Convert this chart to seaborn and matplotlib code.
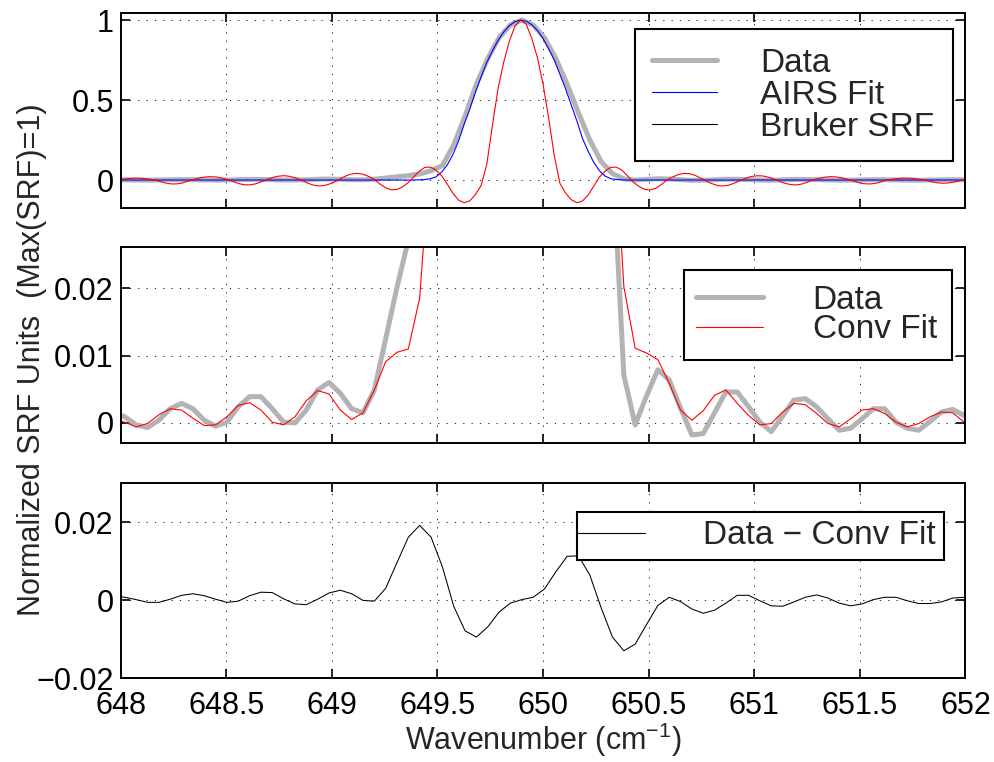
import numpy as np
import matplotlib
matplotlib.use("Agg")
import matplotlib.pyplot as plt
from matplotlib.lines import Line2D
from matplotlib.legend_handler import HandlerLine2D
from matplotlib.ticker import FuncFormatter
import seaborn as sns

# sampling of the measured channel and of the fitted SRF curves (cm-1)
wn_start, wn_stop, wn_count = 647.966, 652.047, 77
fine_start, fine_stop, fine_count = 648.0, 652.0, 151

# measured SRF (normalized)
data = [
    0.0015, 0.0009, -0.0003, -0.0007, 0.0004, 0.0021, 0.0029, 0.0021, 0.0004, -0.0005,
    0.0001, 0.0024, 0.0039, 0.0039, 0.0021, 0.0001, 0.0000, 0.0019, 0.0049, 0.0060,
    0.0044, 0.0021, 0.0015, 0.0049, 0.0125, 0.0202, 0.0272, 0.038, 0.058, 0.09,
    0.22, 0.40, 0.60, 0.76, 0.89, 0.97, 1.0, 0.97, 0.89, 0.76,
    0.60, 0.42, 0.25, 0.115, 0.04, 0.0071, -0.0003, 0.0040, 0.0079, 0.0064,
    0.0022, -0.0018, -0.0016, 0.0015, 0.0046, 0.0046, 0.0024, 0.0001, -0.0013, 0.0010,
    0.0034, 0.0036, 0.0024, 0.0006, -0.0011, -0.0008, 0.0006, 0.0021, 0.0021, 0.0001,
    -0.0008, -0.0011, 0.0002, 0.0016, 0.0020, 0.0011, 0.0008,
]

# convolved fit on the same samples
conv_fit = [
    0.0005, 0.0001, -0.0006, -0.0001, 0.0012, 0.0021, 0.0019, 0.0007, -0.0004, -0.0003,
    0.0009, 0.0026, 0.0030, 0.0019, 0.0001, -0.0003, 0.0009, 0.0033, 0.0048, 0.0043,
    0.0019, 0.0005, 0.0015, 0.0049, 0.0091, 0.0105, 0.0110, 0.0186, 0.042, 0.081,
    0.22, 0.41, 0.61, 0.77, 0.89, 0.97, 1.0, 0.97, 0.89, 0.75,
    0.59, 0.41, 0.24, 0.117, 0.049, 0.0203, 0.0111, 0.0104, 0.0094, 0.0059,
    0.0019, 0.0004, 0.0018, 0.0041, 0.0049, 0.0029, 0.0011, -0.0003, -0.0001, 0.0016,
    0.0029, 0.0027, 0.0014, -0.0001, -0.0006, 0.0006, 0.0019, 0.0021, 0.0014, 0.0001,
    -0.0006, -0.0001, 0.0009, 0.0016, 0.0015, 0.0001, -0.0003,
]

# data - conv fit
resid = [
    0.0012, 0.0008, 0.0002, -0.0005, -0.0005, 0.0003, 0.0013, 0.0017, 0.0012, 0.0003,
    -0.0005, -0.0002, 0.0012, 0.0021, 0.0020, 0.0004, -0.0009, -0.0011, 0.0003, 0.0019,
    0.0026, 0.0017, 0.0000, -0.0002, 0.0031, 0.0097, 0.0162, 0.0192, 0.0162, 0.0086,
    -0.0015, -0.0078, -0.0094, -0.0068, -0.0030, -0.0007, 0.0002, 0.0008, 0.0029, 0.0073,
    0.0113, 0.0114, 0.0065, -0.0019, -0.0094, -0.0129, -0.0112, -0.0062, -0.0013, 0.0008,
    -0.0003, -0.0022, -0.0033, -0.0025, -0.0007, 0.0013, 0.0013, -0.0001, -0.0014, -0.0015,
    -0.0004, 0.0008, 0.0014, 0.0006, -0.0007, -0.0014, -0.0009, 0.0002, 0.0008, 0.0008,
    -0.0001, -0.0008, -0.0008, -0.0004, 0.0006, 0.0008, 0.0009,
]

# AIRS fit, fine grid
airs_fit = [
    0.0, 0.0, 0.0, 0.0, 0.0, 0.0, 0.0, 0.0, 0.0, 0.0,
    0.0, 0.0, 0.0, 0.0, 0.0, 0.0, 0.0, 0.0, 0.0, 0.0,
    0.0, 0.0, 0.0, 0.0, 0.0, 0.0, 0.0, 0.0, 0.0, 0.0,
    0.0, 0.0, 0.0, 0.0, 0.0, 0.0, 0.0, 0.0, 0.0, 0.0,
    0.0, 0.0, 0.0, 0.0, 0.0, 0.0, 0.0, 0.0, 0.0, 0.0,
    0.0, 0.0, 0.0, 0.001, 0.003, 0.008, 0.02, 0.05, 0.095, 0.16,
    0.245, 0.35, 0.445, 0.55, 0.645, 0.735, 0.807, 0.873, 0.925, 0.965,
    0.99, 1.0, 0.993, 0.971, 0.935, 0.884, 0.82, 0.75, 0.66, 0.57,
    0.47, 0.37, 0.26, 0.18, 0.11, 0.058, 0.025, 0.009, 0.003, 0.001,
    0.0, 0.0, 0.0, 0.0, 0.0, 0.0, 0.0, 0.0, 0.0, 0.0,
    0.0, 0.0, 0.0, 0.0, 0.0, 0.0, 0.0, 0.0, 0.0, 0.0,
    0.0, 0.0, 0.0, 0.0, 0.0, 0.0, 0.0, 0.0, 0.0, 0.0,
    0.0, 0.0, 0.0, 0.0, 0.0, 0.0, 0.0, 0.0, 0.0, 0.0,
    0.0, 0.0, 0.0, 0.0, 0.0, 0.0, 0.0, 0.0, 0.0, 0.0,
    0.0, 0.0, 0.0, 0.0, 0.0, 0.0, 0.0, 0.0, 0.0, 0.0,
    0.0,
]

# Bruker SRF, fine grid
bruker_srf = [
    0.003, 0.008, 0.011, 0.012, 0.010, 0.006, 0.001, -0.0095, -0.019, -0.0245,
    -0.024, -0.018, -0.007, 0.004, 0.013, 0.019, 0.021, 0.019, 0.012, 0.003,
    -0.0096, -0.0227, -0.030, -0.030, -0.0235, -0.0105, 0.0035, 0.016, 0.024, 0.027,
    0.023, 0.014, 0.0015, -0.016, -0.030, -0.037, -0.0356, -0.026, -0.011, 0.008,
    0.026, 0.038, 0.042, 0.036, 0.023, 0.0045, -0.024, -0.0475, -0.061, -0.060,
    -0.044, -0.018, 0.018, 0.055, 0.079, 0.081, 0.062, 0.026, -0.026, -0.083,
    -0.126, -0.142, -0.130, -0.091, -0.034, 0.097, 0.34, 0.57, 0.735, 0.866,
    0.962, 1.0, 0.975, 0.885, 0.765, 0.60, 0.385, 0.15, -0.022, -0.082,
    -0.123, -0.142, -0.131, -0.094, -0.038, 0.018, 0.055, 0.079, 0.081, 0.062,
    0.026, -0.0125, -0.039, -0.058, -0.062, -0.052, -0.029, 0.001, 0.019, 0.034,
    0.0416, 0.040, 0.029, 0.012, -0.007, -0.023, -0.0345, -0.0375, -0.032, -0.019,
    -0.002, 0.0116, 0.022, 0.0267, 0.0254, 0.018, 0.0063, -0.008, -0.021, -0.029,
    -0.0306, -0.0245, -0.0127, 0.0015, 0.0107, 0.0176, 0.0209, 0.0196, 0.0143, 0.0058,
    -0.005, -0.0158, -0.023, -0.0248, -0.021, -0.0118, 0.0002, 0.0054, 0.0097, 0.0119,
    0.0115, 0.0087, 0.004, -0.0024, -0.011, -0.0174, -0.020, -0.018, -0.0126, -0.0045,
    0.003,
]

xticks = [648, 648.5, 649, 649.5, 650, 650.5, 651, 651.5, 652]
yticks_top = [0, 0.5, 1]
yticks_mid = [0, 0.01, 0.02]
yticks_bot = [-0.02, 0, 0.02]

wn = np.linspace(wn_start, wn_stop, wn_count)
wn_fine = np.linspace(fine_start, fine_stop, fine_count)

sns.set_style("ticks")
plt.rcParams['font.family'] = ['Liberation Sans', 'DejaVu Sans']
plt.rcParams['mathtext.fontset'] = 'custom'
plt.rcParams['mathtext.rm'] = 'Liberation Sans'
plt.rcParams['mathtext.it'] = 'Liberation Sans:italic'

fig = plt.figure(figsize=(9.95, 7.62), dpi=100)
left, width = 0.1213, 0.849
ax1 = fig.add_axes([left, 0.7266, width, 0.2567])
ax2 = fig.add_axes([left, 0.4186, width, 0.2576])
ax3 = fig.add_axes([left, 0.1096, width, 0.2562])

gray = '#b3b3b3'

# top: full SRF
sns.lineplot(x=wn, y=data, ax=ax1, color=gray, linewidth=3.6, estimator=None, sort=False)
sns.lineplot(x=wn_fine, y=airs_fit, ax=ax1, color='#0000ff', linewidth=0.8, estimator=None, sort=False)
sns.lineplot(x=wn_fine, y=bruker_srf, ax=ax1, color='#ff0000', linewidth=0.8, estimator=None, sort=False)

# middle: zoom on the wings
sns.lineplot(x=wn, y=data, ax=ax2, color=gray, linewidth=3.6, estimator=None, sort=False)
sns.lineplot(x=wn, y=conv_fit, ax=ax2, color='#ff0000', linewidth=0.8, estimator=None, sort=False)

# bottom: residual
sns.lineplot(x=wn, y=resid, ax=ax3, color='black', linewidth=0.75, estimator=None, sort=False)

ax1.set_ylim(-0.177, 1.046)
ax2.set_ylim(-0.003, 0.0262)
ax3.set_ylim(-0.02, 0.03)
ax1.set_yticks(yticks_top)
ax2.set_yticks(yticks_mid)
ax3.set_yticks(yticks_bot)


def fmt(v, _):
    return f"{v:g}".replace('-', '\u2212')


for ax in (ax1, ax2, ax3):
    ax.set_xlim(648, 652)
    ax.set_xticks(xticks)
    ax.xaxis.set_major_formatter(FuncFormatter(fmt))
    ax.yaxis.set_major_formatter(FuncFormatter(fmt))
    ax.set_xlabel('')
    ax.set_ylabel('')
    ax.grid(True, color='black', linestyle=(0, (1.5, 8.5)), linewidth=0.6)
    ax.set_axisbelow(True)
    for sp in ax.spines.values():
        sp.set_visible(True)
        sp.set_linewidth(1.4)
        sp.set_color('black')
    ax.tick_params(direction='in', length=6.2, width=1.2, top=True, right=True,
                   labelsize=22, pad=5, colors='black')
    ax.tick_params(axis='x', pad=9)
ax1.tick_params(labelbottom=False)
ax2.tick_params(labelbottom=False)

ax3.set_xlabel('Wavenumber (cm$^{-1}$)', fontsize=22, labelpad=0)
fig.text(0.032, 1 - 360 / 762, 'Normalized SRF Units  (Max(SRF)=1)', rotation=90,
         ha='center', va='center', fontsize=22)


def add_legend(ax, handles, labels, anchor, ls, bp, sample, gap, inset):
    leg = ax.legend(handles, labels, loc='upper left', bbox_to_anchor=anchor,
                    bbox_transform=fig.transFigure, borderaxespad=0, fontsize=24,
                    labelspacing=ls, borderpad=bp, handlelength=sample - inset,
                    handletextpad=gap + 2 * inset, fancybox=False, framealpha=1,
                    edgecolor='black',
                    handler_map={Line2D: HandlerLine2D(xpad=-inset)})
    leg.get_frame().set_linewidth(1.5)
    return leg


h_data = Line2D([], [], color=gray, linewidth=3.6)
h_airs = Line2D([], [], color='#0000ff', linewidth=0.8)
h_brk = Line2D([], [], color='black', linewidth=0.8)
h_conv = Line2D([], [], color='#ff0000', linewidth=0.8)
h_res = Line2D([], [], color='black', linewidth=0.8)

add_legend(ax1, [h_data, h_airs, h_brk], ['Data', 'AIRS Fit', 'Bruker SRF'],
           (635 / 995, 1 - 29 / 762), 0.03, 0.56, 1.95, 1.20, 0.04)
add_legend(ax2, [h_data, h_conv], ['Data', 'Conv Fit'],
           (684 / 995, 1 - 270 / 762), -0.05, 0.45, 2.00, 1.32, 0.09)
add_legend(ax3, [h_res], ['Data \u2212 Conv Fit'],
           (576.7 / 995, 1 - 511.7 / 762), 0.0, 0.26, 2.04, 1.23, 0.25)

fig.savefig('out.png', dpi=100)
plt.close(fig)
